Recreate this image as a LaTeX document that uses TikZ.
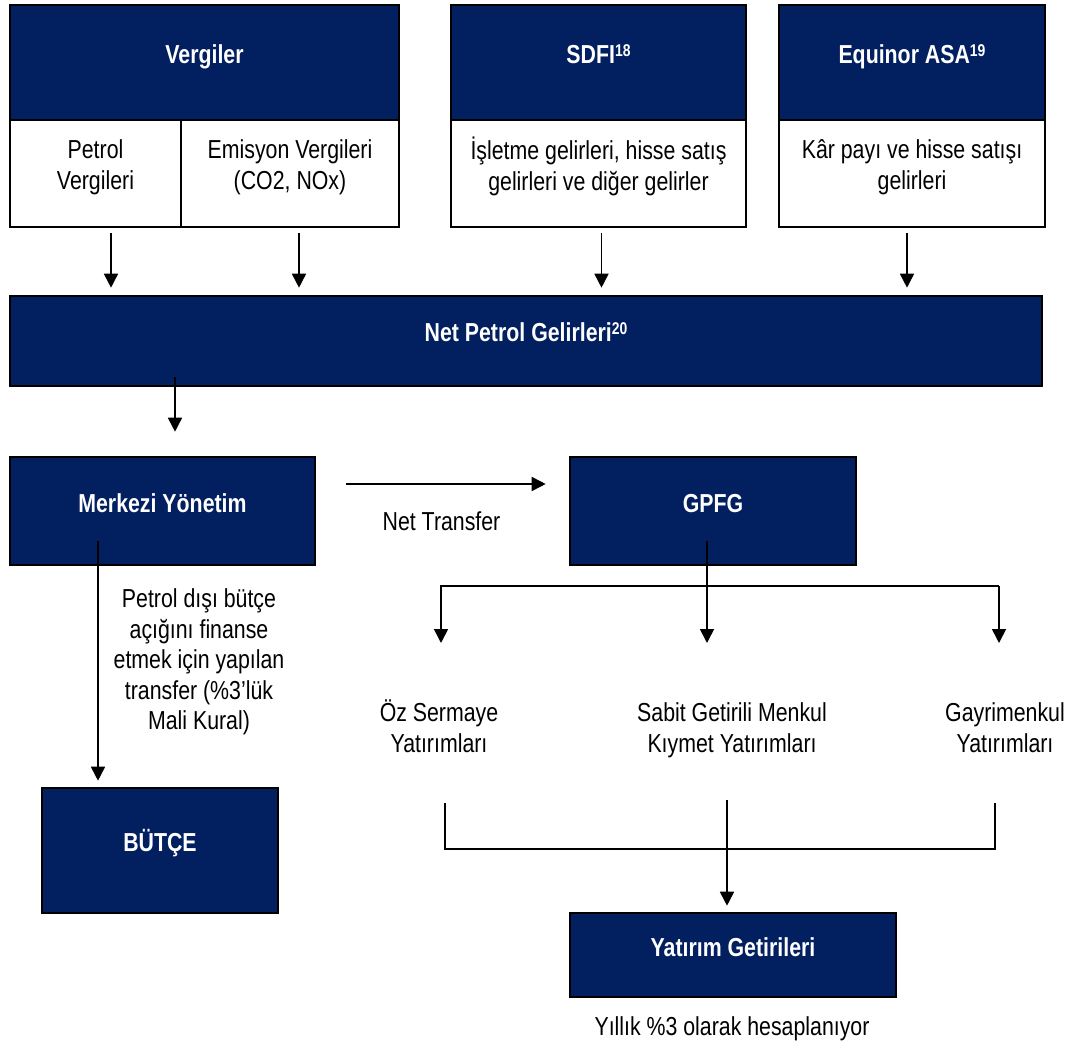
\documentclass[tikz,border=0pt]{standalone}
\usepackage{fontspec}
\setmainfont{Liberation Sans}[FakeStretch=0.82]
\usetikzlibrary{arrows.meta}
\definecolor{navy}{RGB}{2,32,96}
\newcommand\myfs{\fontsize{26}{31}\selectfont}
\newcommand\sups[1]{\raisebox{7pt}{\fontsize{17}{17}\selectfont #1}}
\tikzset{
  dbox/.style={draw=black, line width=2.6pt, fill=navy, text=white, font=\myfs\bfseries,
    inner sep=0pt, text height=19pt, text depth=17pt},
  wbox/.style={draw=black, line width=2.6pt, fill=white, inner sep=0pt},
  txt/.style={align=center, inner sep=0pt, font=\myfs},
  arr/.style={line width=1.7pt, -{Triangle[width=14pt,length=14pt]}},
  conn/.style={line width=1.6pt},
}
\begin{document}
\begin{tikzpicture}[x=1pt, y=-1pt]
\useasboundingbox[fill=white] (0,0) rectangle (1071,1048);
% top row
\node[dbox, minimum width=389pt, minimum height=115pt] (verg) at (204.5,62.5) {Vergiler};
\node[wbox, minimum width=171pt, minimum height=107pt] (petrol) at (95.5,173.5) {};
\node[wbox, minimum width=218pt, minimum height=107pt] (emis) at (290,173.5) {};
\node[dbox, minimum width=295pt, minimum height=115pt] (sdfi) at (598.5,62.5) {SDFI\sups{18}};
\node[wbox, minimum width=295pt, minimum height=107pt] (sdfib) at (598.5,173.5) {};
\node[dbox, minimum width=266pt, minimum height=115pt] (equi) at (912,62.5) {Equinor ASA\sups{19}};
\node[wbox, minimum width=266pt, minimum height=107pt] (equib) at (912,173.5) {};
\node[txt] (petrolT) at (95.5,167) {Petrol\\Vergileri};
\node[txt] (emisT) at (290,167) {Emisyon Vergileri\\(CO2, NOx)};
\node[txt] (sdfiT) at (598.5,166) {İşletme gelirleri, hisse satış\\gelirleri ve diğer gelirler};
\node[txt] (equiT) at (912,167) {Kâr payı ve hisse satışı\\gelirleri};
% net petrol
\node[dbox, minimum width=1032pt, minimum height=90pt] (netp) at (526,341) {Net Petrol Gelirleri\sups{20}};
\draw[arr, shorten >=7pt] ([xshift=15.5pt,yshift=-5pt]petrol.south) -- ([xshift=15.5pt]petrol.south |- netp.north);
\draw[arr, shorten >=7pt] ([xshift=9pt,yshift=-5pt]emis.south) -- ([xshift=9pt]emis.south |- netp.north);
\draw[arr, shorten >=7pt] ([xshift=3pt,yshift=-5pt]sdfib.south) -- ([xshift=3pt]sdfib.south |- netp.north);
\draw[arr, shorten >=7pt] ([xshift=-5pt,yshift=-5pt]equib.south) -- ([xshift=-5pt]equib.south |- netp.north);
% middle
\node[dbox, minimum width=305pt, minimum height=108pt] (merk) at (162.5,511) {Merkezi Yönetim};
\node[dbox, minimum width=286pt, minimum height=108pt] (gpfg) at (713,511) {GPFG};
\node[dbox, minimum width=236pt, minimum height=125pt] (butce) at (160,850.5) {BÜTÇE};
\node[dbox, minimum width=326pt, minimum height=84pt] (yat) at (733,955) {Yatırım Getirileri};
\draw[arr, shorten <=-10pt, shorten >=24pt] ([xshift=12.5pt]merk.north |- netp.south) -- ([xshift=12.5pt]merk.north);
\draw[arr, shorten <=30pt, shorten >=23pt] ([yshift=27pt]merk.east) -- ([yshift=27pt]gpfg.west);
\node[txt] (ntlab) at (441.5,521) {Net Transfer};
\draw[arr, shorten <=-25pt, shorten >=6pt] ([xshift=-64.5pt]merk.south) -- ([xshift=-64.5pt]merk.south |- butce.north);
\node[txt, font=\fontsize{26}{30.5}\selectfont] (trT) at (199,662) {Petrol dışı bütçe\\açığını finanse\\etmek için yapılan\\transfer (\%3’lük\\Mali Kural)};
% GPFG split
\coordinate (hl) at (441,586);
\coordinate (hr) at (999,586);
\coordinate (tipO) at (441,643);
\coordinate (tipS) at (707,643);
\coordinate (tipG) at (999,643);
\draw[arr, shorten <=-25pt] (gpfg.south -| tipS) -- (tipS);
\draw[arr] (hr) -- (hl) -- (tipO);
\draw[arr] (hr) -- (tipG);
\node[txt] (ozT) at (439,726.5) {Öz Sermaye\\Yatırımları};
\node[txt] (sabT) at (732,730.5) {Sabit Getirili Menkul\\Kıymet Yatırımları};
\node[txt] (gayT) at (1005,728) {Gayrimenkul\\Yatırımları};
% bottom bracket
\coordinate (bl) at (445,803);
\coordinate (br) at (995,803);
\coordinate (bj) at (727,849);
\coordinate (bm) at (727,800);
\draw[conn] (bl) |- (bj) -| (br);
\draw[arr, shorten >=6pt] (bm) -- (bm |- yat.north);
\node[txt] (yilT) at (732,1029) {Yıllık \%3 olarak hesaplanıyor};
\end{tikzpicture}
\end{document}
